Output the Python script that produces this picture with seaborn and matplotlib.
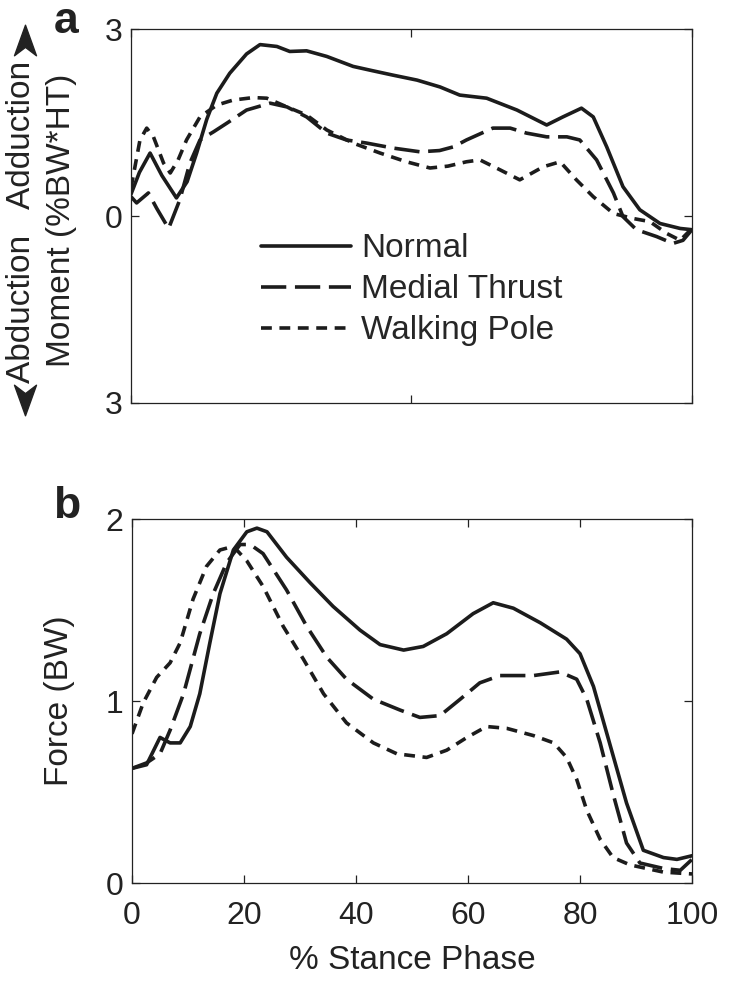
import matplotlib
matplotlib.use("Agg")
import matplotlib.pyplot as plt
from matplotlib.path import Path
from matplotlib.lines import Line2D
import seaborn as sns
import numpy as np

sns.set_style("ticks")
plt.rcParams['font.family'] = ['Liberation Sans', 'DejaVu Sans']

# --- panel a: knee adduction moment (%BW*HT) vs % stance ---
mom_normal_x = [0, 1.5, 3.4, 5.5, 8.1, 10, 11.7, 13.5, 15.3, 17.6, 20.6, 23, 26, 28.3, 31.3,
                34.9, 39.6, 43.1, 46.7, 51, 55.1, 58.6, 63.4, 68.8, 74.1, 77, 80.3, 82.4,
                84.8, 87.7, 90.7, 94.3, 97.9, 100]
mom_normal_y = [0.35, 0.7, 1.01, 0.65, 0.29, 0.55, 1.01, 1.55, 1.97, 2.29, 2.6, 2.75, 2.72, 2.64,
                2.65, 2.56, 2.4, 2.33, 2.26, 2.18, 2.07, 1.94, 1.89, 1.70, 1.46, 1.59, 1.73, 1.59,
                1.11, 0.47, 0.10, -0.12, -0.2, -0.22]

mom_medial_x = [0, 1.0, 3.1, 4.6, 6.7, 8.7, 10.5, 12.3, 14.7, 17.1, 20.6, 24.8, 27.8, 31.3,
                34.9, 38.4, 42, 46.7, 51.5, 55, 57.5, 59.8, 64.5, 67.6, 70.5, 74.1, 77.7, 80,
                83, 86, 87.7, 90.1, 93.7, 96.6, 98.4, 100]
mom_medial_y = [0.31, 0.21, 0.37, 0.12, -0.2, 0.26, 0.85, 1.22, 1.35, 1.49, 1.70, 1.81, 1.75, 1.59,
                1.33, 1.22, 1.17, 1.09, 1.03, 1.05, 1.11, 1.22, 1.41, 1.41, 1.33, 1.27, 1.27, 1.22,
                0.9, 0.37, -0.01, -0.22, -0.33, -0.44, -0.39, -0.22]

mom_pole_x = [0, 1.6, 2.8, 4.0, 5.8, 7, 8.4, 9.9, 12.3, 15.3, 18.2, 21.8, 24.2, 27.8, 31.3,
              34.9, 39.6, 44.4, 49.1, 53.3, 56.5, 59.8, 62.2, 65.8, 69.3, 73.5, 76.5, 79.4,
              82.4, 86, 89.5, 92.5, 95.5, 97.9, 100]
mom_pole_y = [0.45, 1.22, 1.41, 1.27, 0.85, 0.69, 0.9, 1.22, 1.59, 1.78, 1.86, 1.90, 1.89, 1.75, 1.62,
              1.38, 1.17, 1.01, 0.87, 0.77, 0.80, 0.87, 0.9, 0.74, 0.58, 0.79, 0.87, 0.58,
              0.31, 0.04, -0.04, -0.09, -0.28, -0.39, -0.2]

# --- panel b: medial contact force (BW) vs % stance ---
frc_normal_x = [0, 2.6, 5, 6.8, 8.6, 10.4, 12.1, 13.9, 15.7, 18.1, 20.5, 22.3, 24.1, 27.6, 31.8,
                35.9, 40.7, 44.3, 48.5, 52, 56.2, 60.9, 64.5, 68.1, 72.9, 77.6, 80, 82.4,
                84.8, 88.3, 91.3, 94.9, 97.3, 100]
frc_normal_y = [0.63, 0.65, 0.80, 0.77, 0.77, 0.86, 1.04, 1.32, 1.59, 1.83, 1.93, 1.95, 1.93, 1.79, 1.65,
                1.52, 1.39, 1.31, 1.28, 1.30, 1.37, 1.48, 1.54, 1.51, 1.43, 1.34, 1.26, 1.08,
                0.82, 0.44, 0.18, 0.14, 0.13, 0.15]

frc_medial_x = [0, 2.6, 5, 6.8, 9.2, 12.1, 14.5, 16.9, 19.3, 21.1, 23.4, 27.6, 31.2, 34.8, 38.3,
                43.1, 47.9, 51.4, 55, 58.6, 62.1, 65.7, 71.7, 76.4, 79.4, 81.2, 83.6, 85.9,
                88.3, 90.7, 94.9, 97.9, 100]
frc_medial_y = [0.63, 0.66, 0.71, 0.84, 1.04, 1.37, 1.59, 1.76, 1.86, 1.86, 1.81, 1.61, 1.41, 1.24, 1.12,
                1.01, 0.95, 0.91, 0.92, 1.01, 1.10, 1.14, 1.14, 1.16, 1.12, 1.01, 0.77, 0.49,
                0.22, 0.11, 0.08, 0.07, 0.13]

frc_pole_x = [0, 2, 4.4, 6.8, 8.6, 10.9, 13.3, 15.7, 18.1, 20.5, 23.4, 27, 30.6, 34.2, 38.3,
              43.1, 47.3, 52.6, 56.2, 59.8, 63.3, 66.9, 71.7, 75.3, 77.6, 79.4, 81.2, 83.6,
              85.9, 88.9, 94.9, 100]
frc_pole_y = [0.82, 0.99, 1.13, 1.21, 1.32, 1.56, 1.74, 1.83, 1.85, 1.77, 1.63, 1.41, 1.23, 1.04, 0.88,
              0.77, 0.71, 0.69, 0.73, 0.80, 0.86, 0.85, 0.81, 0.77, 0.69, 0.57, 0.40, 0.24,
              0.14, 0.10, 0.06, 0.05]

labels = ['Normal', 'Medial Thrust', 'Walking Pole']
styles = ['-', (0, (7.0, 2.4)), (0, (3.0, 2.1))]
ink = '#1c1c1c'
fs = 24

fig = plt.figure(figsize=(7.29, 9.97), dpi=100)
ax1 = fig.add_axes([0.1797, 0.5958, 0.7695, 0.3751])
ax2 = fig.add_axes([0.1811, 0.1143, 0.7682, 0.3651])

lw = 2.6
for xs, ys, lab, ls in zip([mom_normal_x, mom_medial_x, mom_pole_x],
                           [mom_normal_y, mom_medial_y, mom_pole_y], labels, styles):
    sns.lineplot(x=xs, y=ys, ax=ax1, color=ink, linewidth=lw, linestyle=ls,
                 label=lab, sort=False, estimator=None)
for xs, ys, ls in zip([frc_normal_x, frc_medial_x, frc_pole_x],
                      [frc_normal_y, frc_medial_y, frc_pole_y], styles):
    sns.lineplot(x=xs, y=ys, ax=ax2, color=ink, linewidth=lw, linestyle=ls,
                 sort=False, estimator=None, legend=False)

for ax in (ax1, ax2):
    ax.set_xlim(0, 100)
    for sp in ax.spines.values():
        sp.set_visible(True)
        sp.set_linewidth(0.9)
        sp.set_color('#222222')
    ax.tick_params(direction='in', top=True, right=True, length=6, width=0.9,
                   labelsize=23, colors='#222222', pad=6)

ax1.set_ylim(-3, 3)
ax1.set_yticks([-3, 0, 3])
ax1.set_yticklabels(['3', '0', '3'])
ax1.set_xticks([0, 50, 100])
ax1.set_xticklabels([])
ax1.legend(loc='upper left', bbox_to_anchor=(0.232, 0.454), frameon=False, fontsize=fs,
           handlelength=2.7, handletextpad=0.3, labelspacing=0.3, borderpad=0, borderaxespad=0)

ax2.set_ylim(0, 2)
ax2.set_yticks([0, 1, 2])
ax2.set_xticks([0, 20, 40, 60, 80, 100])
ax2.tick_params(axis='x', pad=13)
ax2.set_xlabel('% Stance Phase', fontsize=fs, color='#222222')
ax2.xaxis.set_label_coords(0.5, -0.212)
ax2.xaxis.label.set_va('center')
ax2.set_ylabel('Force (BW)', fontsize=fs, color='#222222')
ax2.yaxis.set_label_coords(-0.129, 0.5)
ax2.yaxis.label.set_va('center')

# y label of panel a with arrowheads at both ends
fig.text(0.030, 0.7773, 'Abduction   Adduction', rotation=90, fontsize=fs,
         ha='center', va='center', color='#222222')
head_up = Path([(0, 1), (0.72, -1), (0, -0.45), (-0.72, -1), (0, 1)],
               [Path.MOVETO, Path.LINETO, Path.LINETO, Path.LINETO, Path.CLOSEPOLY])
head_dn = Path([(0, -1), (0.72, 1), (0, 0.45), (-0.72, 1), (0, -1)],
               [Path.MOVETO, Path.LINETO, Path.LINETO, Path.LINETO, Path.CLOSEPOLY])
for yy, mk in [(0.960, head_up), (0.5988, head_dn)]:
    fig.add_artist(Line2D([0.0343], [yy], transform=fig.transFigure, marker=mk,
                          markersize=22, color='#222222', linestyle='none'))
fig.text(0.0837, 0.7793, 'Moment (%BW*HT)', rotation=90, fontsize=fs,
         ha='center', va='center', color='#222222')
fig.text(0.0905, 0.978, 'a', fontsize=32, fontweight='bold', ha='center', va='center', color='#222222')
fig.text(0.0919, 0.4915, 'b', fontsize=32, fontweight='bold', ha='center', va='center', color='#222222')

fig.savefig('out.png', dpi=100)
